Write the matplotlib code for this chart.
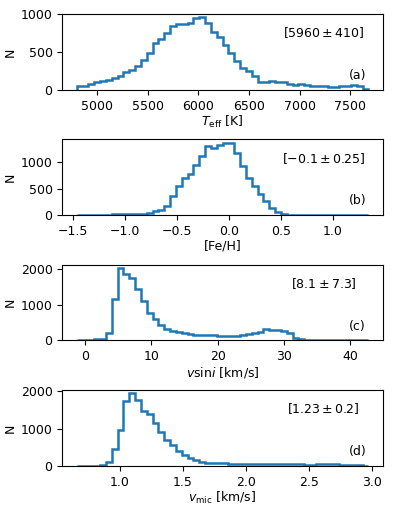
import numpy as np
import matplotlib
matplotlib.use("Agg")
import matplotlib.pyplot as plt

# Panel (a): Teff
teff_range = (4800, 7680)
teff_counts = [45, 55, 80, 105, 120, 128, 155, 177, 230, 265,
               318, 400, 487, 615, 672, 750, 850, 870, 870, 885,
               955, 960, 885, 770, 695, 600, 487, 385, 290, 243,
               177, 110, 110, 120, 100, 100, 80, 66, 75, 58,
               53, 45, 53, 35, 40, 45, 53, 66, 53, 10]

# Panel (b): [Fe/H]
feh_range = (-1.46, 1.34)
feh_counts = [3, 3, 5, 8, 10, 12, 15, 18, 20, 22,
              25, 30, 45, 70, 95, 177, 360, 550, 695, 780,
              950, 1120, 1300, 1265, 1310, 1360, 1350, 1170, 920, 695,
              540, 400, 265, 140, 50, 25, 12, 5, 4, 3,
              3, 2, 2, 2, 1, 1, 1, 1, 1, 1]

# Panel (c): vsini
vsini_range = (-1.25, 42.75)
vsini_counts = [5, 10, 20, 40, 55, 215, 1170, 2020, 1870, 1740,
                1440, 1100, 775, 610, 430, 330, 260, 235, 195, 170,
                160, 150, 150, 140, 120, 120, 120, 130, 160, 185,
                215, 250, 310, 280, 280, 260, 205, 75, 28, 15,
                10, 8, 6, 5, 4, 4, 3, 3, 2, 2]

# Panel (d): vmic
vmic_range = (0.66, 2.97)
vmic_counts = [2, 3, 5, 8, 25, 115, 450, 970, 1740, 1940,
               1775, 1470, 1380, 1150, 900, 700, 555, 405, 295, 205,
               160, 115, 80, 70, 80, 72, 60, 55, 50, 45,
               45, 40, 40, 45, 40, 40, 35, 35, 35, 30,
               30, 35, 40, 40, 35, 30, 25, 15, 10, 5]

xlabels = [r'$T_{\rm eff}$ [K]', '[Fe/H]', r'$v$sin$i$ [km/s]', r'$v_{\rm mic}$ [km/s]']
stats = [r'[$5960 \pm 410$]', r'[$-0.1 \pm 0.25$]', r'[$8.1 \pm 7.3$]', r'[$1.23 \pm 0.2$]']
tags = ['(a)', '(b)', '(c)', '(d)']

panels = [(teff_range, teff_counts), (feh_range, feh_counts),
          (vsini_range, vsini_counts), (vmic_range, vmic_counts)]

plt.rcParams['font.size'] = 9
fig, axes = plt.subplots(4, 1, figsize=(3.99, 5.13), dpi=100)
fig.subplots_adjust(left=0.156, right=0.96, top=0.973, bottom=0.092, hspace=0.65)

for ax, (rng, counts), xl, st, tg in zip(axes, panels, xlabels, stats, tags):
    counts = np.array(counts, dtype=float)
    edges = np.linspace(rng[0], rng[1], len(counts) + 1)
    centers = 0.5 * (edges[:-1] + edges[1:])
    ax.hist(centers, bins=edges, weights=counts, histtype='step',
            linewidth=1.8, color='#1f77b4')
    ax.set_xlabel(xl, labelpad=1)
    ax.set_ylabel('N', labelpad=3)
    ax.text(0.815, 0.75, st, transform=ax.transAxes, ha='center', va='center')
    ax.text(0.92, 0.19, tg, transform=ax.transAxes, ha='center', va='center')

fig.savefig('out.png', dpi=100)
